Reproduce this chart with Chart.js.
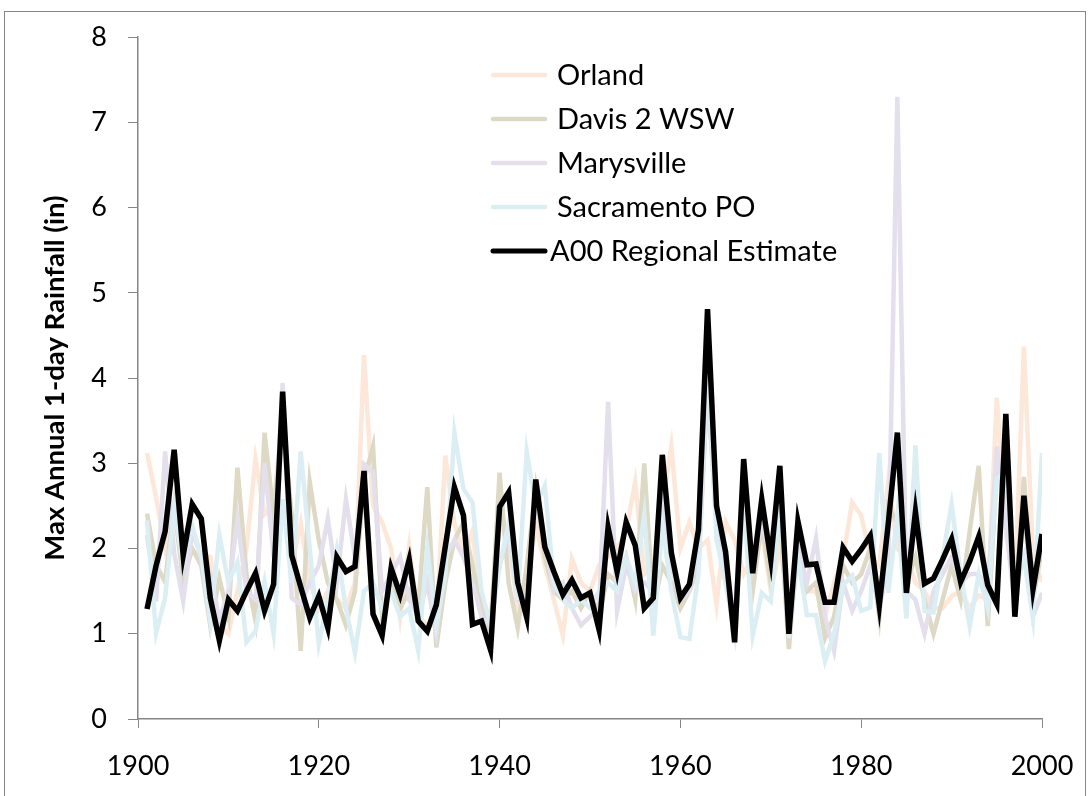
<!DOCTYPE html>
<html>
<head>
<meta charset="utf-8">
<script src="https://cdn.jsdelivr.net/npm/chart.js@4.4.1/dist/chart.umd.min.js"></script>
<style>
  html, body { margin: 0; padding: 0; background: #fff; }
  #wrap { width: 1090px; height: 796px; position: relative; }
</style>
</head>
<body>
<div id="wrap"><canvas id="grafik" width="1090" height="796"></canvas></div>
<script>
// tahun 1901 - 2000
const years = [];
for (let y = 1901; y <= 2000; y++) years.push(y);

const xTicks = [1900, 1920, 1940, 1960, 1980, 2000];
const yTicks = [0, 1, 2, 3, 4, 5, 6, 7, 8];

const seriesNames = ["Orland", "Davis 2 WSW", "Marysville", "Sacramento PO", "A00 Regional Estimate"];
const seriesColors = ["#fce7d8", "#ddd9c4", "#e4dfec", "#dbeef4", "#000000"];

const orland = [
  3.12, 2.60, 2.00, 2.50, 2.20, 1.95, 1.95, 1.90, 1.10, 1.00,
  1.50, 2.00, 3.05, 2.40, 2.50, 3.60, 1.80, 2.30, 1.60, 1.30,
  1.50, 1.40, 1.30, 1.60, 4.27, 2.50, 2.31, 2.00, 1.19, 2.02,
  1.20, 1.10, 1.10, 3.09, 2.30, 1.93, 2.20, 1.30, 1.20, 2.30,
  2.10, 1.30, 1.50, 2.30, 1.80, 1.40, 0.98, 1.88, 1.60, 1.50,
  1.80, 1.90, 2.00, 2.20, 2.78, 1.70, 1.80, 2.50, 3.20, 2.00,
  2.31, 2.00, 2.10, 1.34, 2.31, 2.10, 1.70, 1.90, 2.20, 1.50,
  2.00, 1.40, 1.80, 1.50, 1.50, 1.20, 1.60, 1.90, 2.54, 2.39,
  1.91, 1.80, 2.80, 2.00, 1.90, 1.60, 1.50, 1.30, 1.30, 1.44,
  1.50, 1.30, 1.45, 1.40, 3.77, 2.20, 1.50, 4.37, 1.90, 1.61
];
const davis = [
  2.41, 1.81, 1.61, 2.50, 1.62, 2.00, 1.80, 1.09, 1.65, 1.20,
  2.95, 1.70, 1.15, 3.36, 2.40, 3.50, 2.40, 0.80, 2.78, 2.10,
  1.60, 1.40, 1.10, 1.50, 2.80, 3.20, 1.20, 1.60, 1.30, 1.50,
  1.30, 2.72, 0.84, 1.60, 2.10, 2.30, 1.80, 1.30, 1.00, 2.89,
  1.60, 1.07, 1.80, 2.70, 1.90, 1.50, 1.40, 1.50, 1.30, 1.50,
  1.20, 1.70, 1.60, 1.90, 1.40, 3.00, 1.30, 1.80, 1.60, 1.30,
  1.50, 1.80, 3.90, 2.30, 1.60, 1.10, 2.60, 1.50, 2.30, 1.60,
  2.40, 0.82, 2.10, 1.50, 1.60, 0.95, 1.20, 1.80, 1.60, 1.70,
  2.00, 1.20, 2.50, 2.30, 1.60, 1.90, 1.40, 1.00, 1.40, 1.80,
  1.40, 2.20, 2.97, 1.09, 2.90, 2.80, 1.30, 2.84, 1.40, 2.00
];
const marysville = [
  2.16, 1.38, 3.14, 1.95, 1.38, 2.20, 1.90, 1.70, 1.15, 1.50,
  2.35, 1.50, 1.40, 3.00, 1.90, 3.94, 1.42, 1.34, 1.60, 1.80,
  2.35, 1.60, 2.58, 1.90, 2.99, 2.90, 1.50, 1.70, 1.90, 1.40,
  1.20, 1.60, 1.00, 1.90, 2.10, 1.90, 1.60, 1.20, 1.10, 1.80,
  2.20, 1.40, 1.30, 2.60, 2.10, 1.50, 1.60, 1.30, 1.10, 1.20,
  1.30, 3.72, 1.27, 1.80, 1.50, 1.60, 1.50, 2.60, 1.80, 1.40,
  1.50, 2.00, 3.90, 2.30, 1.70, 1.20, 2.70, 1.80, 2.30, 1.90,
  2.60, 1.10, 2.00, 1.60, 2.12, 1.20, 0.80, 1.60, 1.27, 1.50,
  1.80, 1.30, 1.80, 7.30, 1.50, 1.40, 1.00, 1.50, 1.70, 1.90,
  1.60, 1.70, 1.70, 1.50, 3.20, 2.30, 1.30, 2.50, 1.20, 1.48
];
const sacramento = [
  2.33, 1.01, 1.42, 2.47, 1.80, 2.27, 1.90, 1.15, 2.16, 1.60,
  1.84, 0.90, 1.03, 1.61, 1.00, 2.58, 1.60, 3.14, 2.00, 0.88,
  1.40, 1.99, 1.30, 0.78, 1.50, 1.60, 1.30, 1.50, 1.20, 1.30,
  0.80, 2.00, 1.10, 1.70, 3.36, 2.70, 2.54, 1.50, 1.10, 1.80,
  2.30, 1.40, 3.14, 2.50, 2.74, 1.60, 1.40, 1.30, 1.40, 1.30,
  1.50, 1.60, 1.50, 1.90, 1.60, 2.40, 0.98, 2.27, 1.50, 0.96,
  0.94, 1.70, 4.20, 2.10, 1.60, 1.00, 2.60, 0.98, 1.48, 1.38,
  2.50, 0.95, 1.90, 1.22, 1.22, 0.68, 1.00, 1.57, 1.68, 1.27,
  1.31, 3.12, 1.48, 2.40, 1.18, 3.21, 1.27, 1.25, 1.90, 2.52,
  1.70, 1.09, 1.70, 1.30, 2.82, 2.90, 1.50, 1.90, 1.18, 3.12
];
const a00 = [
  1.29, 1.80, 2.20, 3.16, 1.92, 2.52, 2.35, 1.42, 0.92, 1.40,
  1.27, 1.50, 1.71, 1.27, 1.58, 3.84, 1.92, 1.55, 1.19, 1.44,
  1.07, 1.90, 1.73, 1.79, 2.91, 1.23, 0.98, 1.77, 1.46, 1.87,
  1.15, 1.03, 1.34, 2.03, 2.72, 2.39, 1.11, 1.15, 0.81, 2.49,
  2.66, 1.60, 1.19, 2.81, 2.02, 1.73, 1.46, 1.63, 1.42, 1.48,
  1.05, 2.25, 1.73, 2.31, 2.04, 1.30, 1.42, 3.10, 1.95, 1.42,
  1.58, 2.22, 4.81, 2.50, 1.96, 0.90, 3.05, 1.71, 2.58, 1.87,
  2.97, 1.00, 2.32, 1.81, 1.82, 1.37, 1.37, 2.01, 1.85, 1.99,
  2.15, 1.33, 2.30, 3.36, 1.48, 2.43, 1.59, 1.65, 1.87, 2.11,
  1.61, 1.85, 2.14, 1.57, 1.35, 3.58, 1.20, 2.62, 1.52, 2.17
];

const allSeries = [orland, davis, marysville, sacramento, a00];
const fontFamily = "Lato, 'Open Sans', sans-serif";
const axisGray = "#868686";

function toPoints(arr) {
  return arr.map((v, i) => ({ x: years[i], y: v }));
}

const datasets = allSeries.map((arr, i) => ({
  label: seriesNames[i],
  data: toPoints(arr),
  borderColor: seriesColors[i],
  backgroundColor: seriesColors[i],
  borderWidth: i === 4 ? 5.5 : 4.5,
  pointRadius: 0,
  tension: 0,
  fill: false,
  // seri belakangan digambar di atas
  order: 4 - i
}));

// legenda di dalam area grafik + bingkai luar
const customDraw = {
  id: "customDraw",
  beforeDraw(chart) {
    const ctx = chart.ctx;
    ctx.save();
    ctx.fillStyle = "#fff";
    ctx.fillRect(0, 0, chart.width, chart.height);
    ctx.strokeStyle = axisGray;
    ctx.lineWidth = 1;
    ctx.strokeRect(4.5, 11.5, 1081, 820);
    ctx.restore();
  },
  afterDraw(chart) {
    const ctx = chart.ctx;
    ctx.save();
    ctx.font = "29px " + fontFamily;
    ctx.textBaseline = "middle";
    chart.data.datasets.forEach((ds, i) => {
      const y = 75 + i * 44;
      ctx.strokeStyle = ds.borderColor;
      ctx.lineWidth = i === 4 ? 5 : 4.5;
      ctx.lineCap = "round";
      ctx.beginPath();
      ctx.moveTo(493, y);
      ctx.lineTo(545, y);
      ctx.stroke();
      ctx.fillStyle = "#000";
      ctx.fillText(ds.label, i === 4 ? 550 : 557, y + 1);
    });
    ctx.restore();
  }
};

new Chart(document.getElementById("grafik").getContext("2d"), {
  type: "line",
  data: { datasets: datasets },
  plugins: [customDraw],
  options: {
    responsive: false,
    animation: false,
    layout: { padding: { top: 30, right: 48, bottom: 0, left: 0 } },
    plugins: { legend: { display: false }, tooltip: { enabled: false } },
    scales: {
      x: {
        type: "linear",
        min: 1900,
        max: 2000,
        afterBuildTicks: s => { s.ticks = xTicks.map(v => ({ value: v })); },
        afterFit: s => { s.height = 77; s.paddingLeft = 0; s.paddingRight = 0; },
        grid: { display: true, drawOnChartArea: false, drawTicks: true, tickLength: 9, color: axisGray },
        border: { display: true, color: axisGray, width: 1.5 },
        ticks: {
          color: "#000", padding: 22, maxRotation: 0,
          font: { family: fontFamily, size: 27 },
          callback: v => String(v)
        }
      },
      y: {
        min: 0,
        max: 8,
        afterBuildTicks: s => { s.ticks = yTicks.map(v => ({ value: v })); },
        afterFit: s => { s.width = 138; },
        grid: { display: true, drawOnChartArea: false, drawTicks: true, tickLength: 10, color: axisGray },
        border: { display: true, color: axisGray, width: 1.5 },
        ticks: { color: "#000", padding: 21, font: { family: fontFamily, size: 27 } },
        title: {
          display: true,
          text: "Max Annual 1-day Rainfall (in)",
          color: "#000",
          padding: { top: 39, bottom: 0 },
          font: { family: fontFamily, size: 27.5, weight: "bold" }
        }
      }
    }
  }
});
</script>
</body>
</html>
